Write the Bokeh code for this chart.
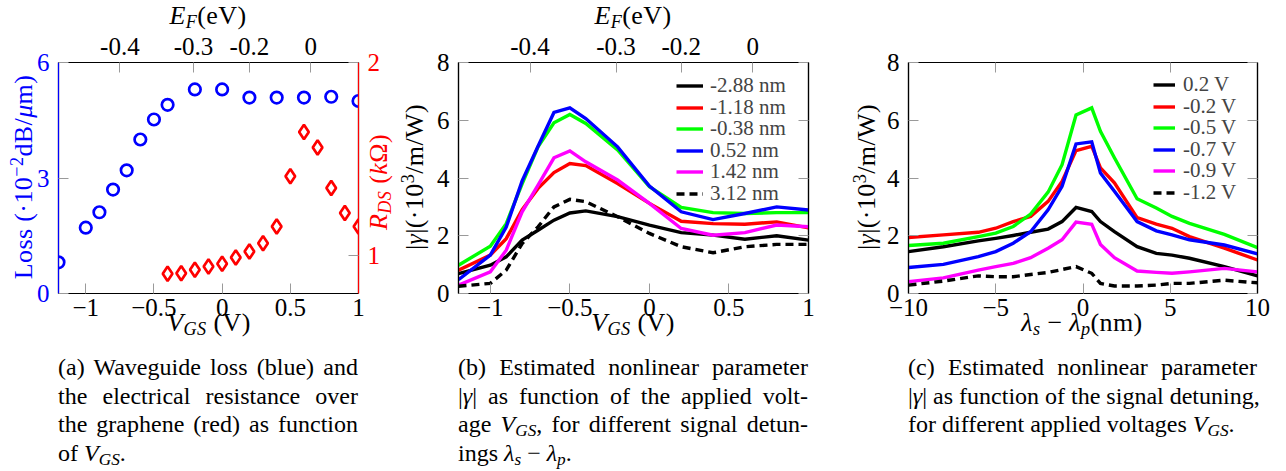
from bokeh.plotting import figure
from bokeh.models import (Range1d, LinearAxis, FixedTicker, Legend, LegendItem, Div)
from bokeh.layouts import row, column
from bokeh.embed import file_html
from bokeh.resources import INLINE

FONT = "Liberation Serif"

# ---------------- data: panel (a) ----------------
vgs_loss = [-1.2, -1.0, -0.9, -0.8, -0.7, -0.6, -0.5, -0.4, -0.2, 0.0, 0.2, 0.4, 0.6, 0.8, 1.0]
loss = [0.81, 1.71, 2.11, 2.70, 3.20, 4.00, 4.52, 4.90, 5.30, 5.30, 5.09, 5.09, 5.09, 5.11, 5.00]
vgs_rds = [-0.4, -0.3, -0.2, -0.1, 0.0, 0.1, 0.2, 0.3, 0.4, 0.5, 0.6, 0.7, 0.8, 0.9, 1.0]
rds = [0.905, 0.908, 0.926, 0.943, 0.957, 0.99, 1.02, 1.064, 1.15, 1.41, 1.64, 1.56, 1.35, 1.22, 1.15]

# Fermi-level (top axis) tick positions, expressed in V_GS
ef_tick_vgs = [-0.75, -0.21, 0.2, 0.65]
ef_tick_labels = ["-0.4", "-0.3", "-0.2", "0"]

vgs_ticks = [-1.0, -0.5, 0.0, 0.5, 1.0]
vgs_tick_labels = ["\u22121", "\u22120.5", "0", "0.5", "1"]

# ---------------- data: panel (b) ----------------
vgs_b = [-1.2, -1.0, -0.9, -0.8, -0.7, -0.6, -0.5, -0.4, -0.2, 0.0, 0.2, 0.4, 0.6, 0.8, 1.0]
det_labels = ["-2.88 nm", "-1.18 nm", "-0.38 nm", "0.52 nm", "1.42 nm", "3.12 nm"]
g_det_m288 = [0.69, 0.98, 1.27, 1.85, 2.19, 2.54, 2.79, 2.86, 2.66, 2.37, 2.11, 2.02, 1.88, 2.00, 1.85]
g_det_m118 = [0.81, 1.33, 1.90, 2.90, 3.64, 4.19, 4.50, 4.43, 3.81, 3.12, 2.50, 2.42, 2.40, 2.48, 2.27]
g_det_m038 = [0.98, 1.64, 2.42, 3.80, 5.08, 5.91, 6.20, 5.89, 4.97, 3.70, 2.98, 2.80, 2.77, 2.80, 2.80]
g_det_052 = [0.48, 1.33, 2.30, 3.90, 5.10, 6.27, 6.43, 6.06, 5.08, 3.72, 2.83, 2.56, 2.77, 3.00, 2.89]
g_det_142 = [0.29, 0.75, 1.50, 2.83, 3.75, 4.70, 4.94, 4.56, 3.93, 3.12, 2.25, 2.02, 2.11, 2.37, 2.31]
g_det_312 = [0.25, 0.35, 0.81, 1.73, 2.31, 3.00, 3.26, 3.18, 2.66, 2.08, 1.62, 1.41, 1.62, 1.70, 1.70]

# ---------------- data: panel (c) ----------------
lam = [-10, -8, -6, -5, -4, -3, -2, -1.2, -0.4, 0.5, 1.0, 1.8, 3.1, 4.2, 5.1, 6.1, 8.1, 10]
volt_labels = ["0.2 V", "-0.2 V", "-0.5 V", "-0.7 V", "-0.9 V", "-1.2 V"]
g_v_02 = [1.45, 1.62, 1.82, 1.91, 2.01, 2.12, 2.23, 2.49, 2.98, 2.84, 2.49, 2.14, 1.62, 1.39, 1.33, 1.22, 0.93, 0.61]
g_v_m02 = [1.94, 2.03, 2.12, 2.26, 2.49, 2.67, 3.19, 3.88, 4.95, 5.10, 4.35, 3.83, 2.63, 2.40, 2.26, 1.97, 1.57, 1.16]
g_v_m05 = [1.66, 1.74, 1.97, 2.09, 2.32, 2.75, 3.51, 4.46, 6.18, 6.43, 5.62, 4.70, 3.28, 2.96, 2.67, 2.43, 2.05, 1.59]
g_v_m07 = [0.90, 1.01, 1.28, 1.45, 1.74, 2.14, 2.90, 3.71, 5.18, 5.25, 4.17, 3.54, 2.49, 2.17, 2.03, 1.86, 1.68, 1.37]
g_v_m09 = [0.41, 0.54, 0.81, 0.93, 1.04, 1.24, 1.57, 1.86, 2.47, 2.40, 1.70, 1.24, 0.78, 0.73, 0.70, 0.75, 0.87, 0.75]
g_v_m12 = [0.29, 0.43, 0.61, 0.58, 0.58, 0.66, 0.73, 0.83, 0.93, 0.70, 0.35, 0.26, 0.26, 0.29, 0.35, 0.35, 0.46, 0.37]

lam_ticks = [-10, -5, 0, 5, 10]
lam_tick_labels = ["\u221210", "\u22125", "0", "5", "10"]

series_colors = ["#000000", "#ff0000", "#00ff00", "#0000ff", "#ff00ff", "#000000"]
series_dash = ["solid", "solid", "solid", "solid", "solid", "8 5"]


# ---------------- helpers ----------------
def style_axis(ax, line_color="black", label_color="black", standoff=8, show_labels=True):
    ax.axis_line_color = line_color
    ax.axis_line_width = 1.2
    ax.major_tick_in = 10
    ax.major_tick_out = 0
    ax.major_tick_line_color = "#9a9a9a"
    ax.major_tick_line_width = 1
    ax.minor_tick_line_color = None
    ax.major_label_text_font = FONT
    ax.major_label_text_font_size = "25px"
    ax.major_label_text_color = label_color if show_labels else None
    ax.major_label_standoff = standoff


def make_fig(bl, fw, br, xr, yr):
    p = figure(frame_width=fw, frame_height=231, min_border_left=bl, min_border_right=br,
               min_border_top=62, min_border_bottom=60, x_range=xr, y_range=yr,
               x_axis_location=None, y_axis_location=None,
               output_backend="svg", toolbar_location=None)
    p.outline_line_color = "black"
    p.outline_line_width = 1.2
    p.background_fill_color = "white"
    p.border_fill_color = "white"
    p.xgrid.visible = False
    p.ygrid.visible = False
    return p


def fixed_axis(ticks, labels):
    return LinearAxis(ticker=FixedTicker(ticks=ticks),
                      major_label_overrides={float(t): l for t, l in zip(ticks, labels)})


ROW_H = 24.8    # height Bokeh gives one legend row at this font
PITCH = 21.5    # row pitch of the reference legend
FRAME_BOTTOM = 293


def add_legend_rows(p, items, x, first_row_y, gw, standoff):
    # one single-item legend per row, so the row pitch can match the reference
    for i, it in enumerate(items):
        yc = first_row_y + PITCH * i
        leg = Legend(items=[it], location=(x, FRAME_BOTTOM - yc - ROW_H / 2),
                     padding=0, spacing=0, margin=0,
                     glyph_width=gw, glyph_height=21, label_height=21, label_standoff=standoff,
                     label_text_font=FONT, label_text_font_size="21px",
                     border_line_color=None, background_fill_alpha=0)
        p.add_layout(leg, "center")


# ================= panel (a) =================
pa = make_fig(58, 300, 44, Range1d(-1.2, 1.0), Range1d(0, 6))
pa.extra_y_ranges = {"r": Range1d(0.803, 2.0)}

ax = fixed_axis(vgs_ticks, vgs_tick_labels)
style_axis(ax, standoff=5)
pa.add_layout(ax, "below")
ax = fixed_axis(ef_tick_vgs, ef_tick_labels)
style_axis(ax, standoff=8)
pa.add_layout(ax, "above")
ax = LinearAxis(ticker=FixedTicker(ticks=[0, 3, 6]))
style_axis(ax, line_color="#0000ff", label_color="#0000ff", standoff=9)
pa.add_layout(ax, "left")
ax = LinearAxis(y_range_name="r", ticker=FixedTicker(ticks=[1, 2]))
style_axis(ax, line_color="#ff0000", label_color="#ff0000", standoff=9)
pa.add_layout(ax, "right")

pa.scatter(vgs_loss, loss, marker="circle", size=11.5, fill_color=None,
           line_color="#0000ff", line_width=2.7)
pa.scatter(vgs_rds, rds, marker="diamond", size=14.5, fill_color=None,
           line_color="#ff0000", line_width=2.7, y_range_name="r")

# ================= panel (b) =================
pb = make_fig(56, 350, 34, Range1d(-1.2, 1.0), Range1d(0, 8))
ax = fixed_axis(vgs_ticks, vgs_tick_labels)
style_axis(ax, standoff=5)
pb.add_layout(ax, "below")
ax = fixed_axis(ef_tick_vgs, ef_tick_labels)
style_axis(ax, standoff=8)
pb.add_layout(ax, "above")
ax = LinearAxis(ticker=FixedTicker(ticks=[0, 2, 4, 6, 8]))
style_axis(ax, standoff=9)
pb.add_layout(ax, "left")
ax = LinearAxis(ticker=FixedTicker(ticks=[0, 2, 4, 6, 8]))
style_axis(ax, show_labels=False, standoff=0)
pb.add_layout(ax, "right")

series_b = [g_det_m288, g_det_m118, g_det_m038, g_det_052, g_det_142, g_det_312]
items = []
for lab, ys, col, dash in zip(det_labels, series_b, series_colors, series_dash):
    r = pb.line(vgs_b, ys, line_color=col, line_width=3.4, line_dash=dash, line_join="miter")
    items.append(LegendItem(label=lab, renderers=[r]))
add_legend_rows(pb, items, 218, 86, 27, 7)

# ================= panel (c) =================
pc = make_fig(66, 349, 21, Range1d(-10, 10), Range1d(0, 8))
ax = fixed_axis(lam_ticks, lam_tick_labels)
style_axis(ax, standoff=5)
pc.add_layout(ax, "below")
ax = LinearAxis(ticker=FixedTicker(ticks=lam_ticks))
style_axis(ax, show_labels=False, standoff=0)
pc.add_layout(ax, "above")
ax = LinearAxis(ticker=FixedTicker(ticks=[0, 2, 4, 6, 8]))
style_axis(ax, standoff=9)
pc.add_layout(ax, "left")
ax = LinearAxis(ticker=FixedTicker(ticks=[0, 2, 4, 6, 8]))
style_axis(ax, show_labels=False, standoff=0)
pc.add_layout(ax, "right")

series_c = [g_v_02, g_v_m02, g_v_m05, g_v_m07, g_v_m09, g_v_m12]
items = []
for lab, ys, col, dash in zip(volt_labels, series_c, series_colors, series_dash):
    r = pc.line(lam, ys, line_color=col, line_width=3.4, line_dash=dash, line_join="miter")
    items.append(LegendItem(label=lab, renderers=[r]))
add_legend_rows(pc, items, 245, 85, 22, 8)

# ================= axis titles and captions (HTML) =================
SUBS = '<sub style="font-size:70%;vertical-align:-4px;line-height:0;">'
SUPS = '<sup style="font-size:70%;vertical-align:9px;line-height:0;">'

T_EF = f'<i>E</i>{SUBS}<i>F</i></sub>(eV)'
T_VGS = f'<i>V</i>{SUBS}<i>GS</i></sub> (V)'
T_LOSS = f'Loss (&middot;10{SUPS}&minus;2</sup>dB/<i>&mu;</i>m)'
T_RDS = f'<i>R</i>{SUBS}<i>DS</i></sub> (<i>k</i>&Omega;)'
T_GAM = f'|<i>&gamma;</i>|(&middot;10{SUPS}3</sup>/m/W)'
T_LAM = f'<i>&lambda;</i>{SUBS}<i>s</i></sub> &minus; <i>&lambda;</i>{SUBS}<i>p</i></sub>(nm)'

SUB_C = '<sub style="font-size:0.72em;vertical-align:-0.25em;line-height:0;">'
VGS = f'<i>V</i>{SUB_C}<i>GS</i></sub>'
GAM = '|<i>&gamma;</i>|'
LAM = f'<i>&lambda;</i>{SUB_C}<i>s</i></sub> &minus; <i>&lambda;</i>{SUB_C}<i>p</i></sub>'

cap_a = ["(a) Waveguide loss (blue) and",
         "the electrical resistance over",
         "the graphene (red) as function",
         f"of {VGS}."]
cap_b = ["(b) Estimated nonlinear parameter",
         f"{GAM} as function of the applied volt-",
         f"age {VGS}, for different signal detun-",
         f"ings {LAM}."]
cap_c = ["(c) Estimated nonlinear parameter",
         f"{GAM} as function of the signal detuning,",
         f"for different applied voltages {VGS}."]

CAP_TOP = 353  # page y of the caption block


def title_html(html, x, y, x0, color="#000", rotate=False):
    """x, y: page position. Horizontal: centre of baseline. Rotated: centre of the text box."""
    base = (f"position:absolute;white-space:nowrap;font-family:'Liberation Serif',serif;"
            f"font-size:26px;line-height:26px;letter-spacing:0.4px;color:{color};z-index:20;")
    if rotate:
        st = base + (f"left:{x - x0}px;top:{y - CAP_TOP}px;"
                     f"transform:translate(-50%,-50%) rotate(-90deg);")
    else:
        st = base + f"left:{x - x0}px;top:{y - 22 - CAP_TOP}px;transform:translateX(-50%);"
    return f'<div style="{st}">{html}</div>'


def caption_html(lines, width, titles):
    parts = []
    for i, ln in enumerate(lines):
        al = "left" if i == len(lines) - 1 else "justify"
        parts.append(f'<div style="white-space:nowrap;text-align:{al};text-align-last:{al};">{ln}</div>')
    return (f'<div style="position:relative;font-family:\'Liberation Serif\',serif;font-size:24px;'
            f'line-height:28.5px;color:#000;width:{width}px;">' + "".join(titles) + "".join(parts) + "</div>")


def cap_div(lines, width, left, titles):
    return Div(text=caption_html(lines, width, titles), width=width, height=108,
               margin=(0, 0, 0, left), styles={"overflow": "visible", "z-index": "10"})


titles_a = [title_html(T_EF, 208, 25, 58), title_html(T_VGS, 209, 332, 58),
            title_html(T_LOSS, 24, 177, 58, color="#0000ff", rotate=True),
            title_html(T_RDS, 379, 182, 58, color="#ff0000", rotate=True)]
titles_b = [title_html(T_EF, 633, 25, 458), title_html(T_VGS, 633, 332, 458),
            title_html(T_GAM, 415, 177, 458, rotate=True)]
titles_c = [title_html(T_LAM, 1082, 332, 908),
            title_html(T_GAM, 867, 177, 908, rotate=True)]

col_a = column(pa, cap_div(cap_a, 300, 58, titles_a), spacing=0)
col_b = column(pb, cap_div(cap_b, 350, 56, titles_b), spacing=0)
col_c = column(pc, cap_div(cap_c, 349, 66, titles_c), spacing=0)
layout = row(col_a, col_b, col_c, spacing=0)

open("out.html", "w").write(file_html(layout, INLINE))
